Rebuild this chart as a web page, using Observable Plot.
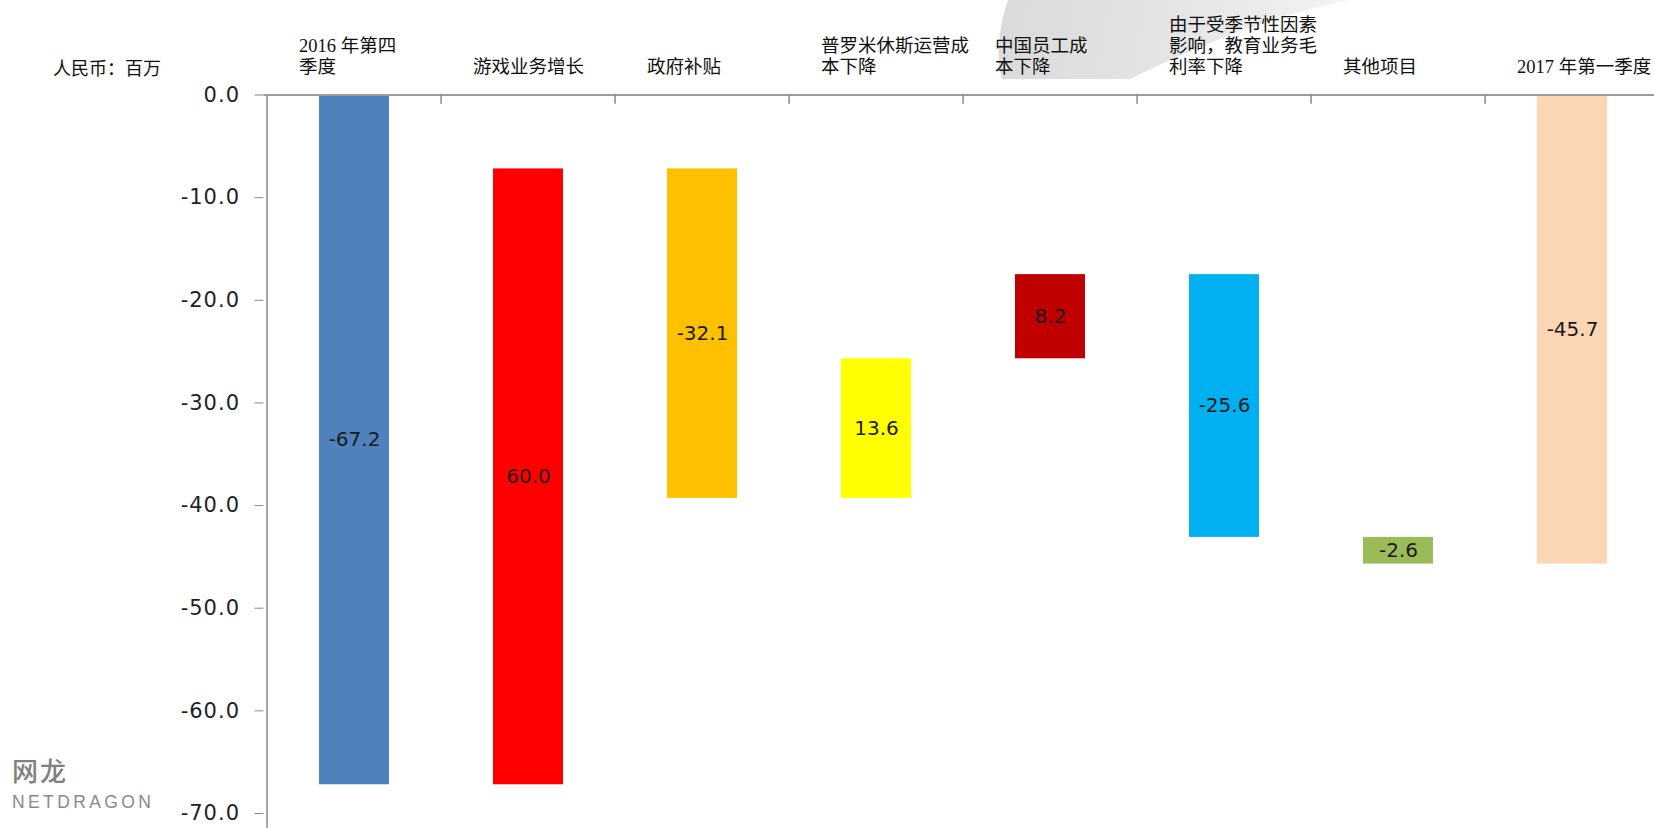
<!DOCTYPE html>
<html>
<head>
<meta charset="utf-8">
<script src="https://cdn.jsdelivr.net/npm/d3@7"></script>
<script src="https://cdn.jsdelivr.net/npm/@observablehq/plot@0.6"></script>
<style>
  html, body { margin: 0; padding: 0; background: #fff; width: 1654px; height: 828px; overflow: hidden; }
  #wrap { position: relative; width: 1654px; height: 828px; }
  #wm { position: absolute; left: 990px; top: 0; width: 400px; height: 79px;
        background: linear-gradient(100deg, #dadada 0%, #e3e3e3 40%, #efefef 75%, #fafafa 100%);
        clip-path: path('M 18 0 C 8 30, 6 58, 12 79 L 140 79 C 200 50, 280 15, 360 0 Z'); }
  #unit { position: absolute; left: 53px; top: 54px; font: 18px "Liberation Serif", "Noto Sans CJK SC", serif; color: #111; white-space: nowrap; }
  #logo1 { position: absolute; left: 12px; top: 754px; font: 500 26px "Noto Sans CJK SC", sans-serif; color: #808080; letter-spacing: 2px; line-height: 1.2; }
  #logo2 { position: absolute; left: 12px; top: 792px; font: 17.5px "Liberation Sans", sans-serif; color: #8a8a8a; letter-spacing: 3.4px; }
  #chart { position: absolute; left: 0; top: 0; }
  #chart g[aria-label="y-axis tick label"] text,
  #chart g[aria-label="bar-values"] text { letter-spacing: 1px; }
</style>
</head>
<body>
<div id="wrap">
  <div id="wm"></div>
  <div id="unit">人民币：百万</div>
  <div id="logo1">网龙</div>
  <div id="logo2">NETDRAGON</div>
  <div id="chart"></div>
</div>
<script>
// ---- data ----
const categories = [
  "2016 年第四\n季度",
  "游戏业务增长",
  "政府补贴",
  "普罗米休斯运营成\n本下降",
  "中国员工成\n本下降",
  "由于受季节性因素\n影响，教育业务毛\n利率下降",
  "其他项目",
  "2017 年第一季度"
];
const values = [-67.2, 60.0, -32.1, 13.6, 8.2, -25.6, -2.6, -45.7];
const isTotal = [true, false, false, false, false, false, false, true];
const colors = ["#4F81BD", "#FF0000", "#FFC000", "#FFFF00", "#C00000", "#00B0F0", "#9BBB59", "#FCD5B5"];
const yTicks = [0, -10, -20, -30, -40, -50, -60, -70];

// ---- waterfall table ----
let run = 0;
const rows = categories.map((cat, i) => {
  const v = values[i];
  let y1, y2;
  if (isTotal[i]) { y1 = 0; y2 = v; run = v; }
  else { y1 = run; y2 = run + v; run = y2; }
  return {cat, v, y1, y2};
});

const W = 1654, H = 828;
const mLeft = 263.5, mRight = -8.4, mTop = 94.5, mBottom = 15;
const step = (W - mRight - mLeft) / categories.length;

const chart = Plot.plot({
  width: W, height: H,
  marginLeft: mLeft, marginRight: mRight, marginTop: mTop, marginBottom: mBottom,
  style: {background: "transparent", overflow: "visible", fontFamily: "DejaVu Sans"},
  x: {domain: categories, paddingInner: 0.6, paddingOuter: 0.3, axis: null},
  y: {domain: [-70, 0], axis: null, clamp: false},
  color: {domain: categories, range: colors},
  marks: [
    Plot.barY(rows, {x: "cat", y1: "y1", y2: "y2", fill: "cat"}),
    Plot.text(rows, {
      x: "cat", y: d => (d.y1 + d.y2) / 2, text: d => d.v.toFixed(1),
      fontSize: 20, fontFamily: "DejaVu Sans", fill: "#1a1a1a", ariaLabel: "bar-values"
    }),
    Plot.axisY({
      ticks: yTicks, tickFormat: d => d.toFixed(1), tickSize: 9, tickPadding: 15,
      fontSize: 21, fontFamily: "DejaVu Sans", stroke: "#888", fill: "#1f1f2a", label: null
    }),
    Plot.ruleX([categories[0]], {x: d => d, y1: 0, y2: -71.5, dx: -step / 2, stroke: "#8a8a8a", strokeWidth: 1.5}),
    Plot.ruleY([0], {stroke: "#9a9a9a", strokeWidth: 2.2}),
    Plot.ruleX(categories.slice(1), {x: d => d, y1: 0, y2: -0.9, dx: -step / 2, stroke: "#8a8a8a", strokeWidth: 1.5}),
    Plot.text(categories, {
      x: d => d, y: d => 0, text: d => d, lineAnchor: "bottom", textAnchor: "start",
      dx: -step / 2 + 32, dy: -22,
      fontSize: 18.5, lineHeight: 1.13, fontFamily: "Liberation Serif, Noto Sans CJK SC, serif", fill: "#111"
    })
  ]
});
document.getElementById("chart").appendChild(chart);
</script>
</body>
</html>
